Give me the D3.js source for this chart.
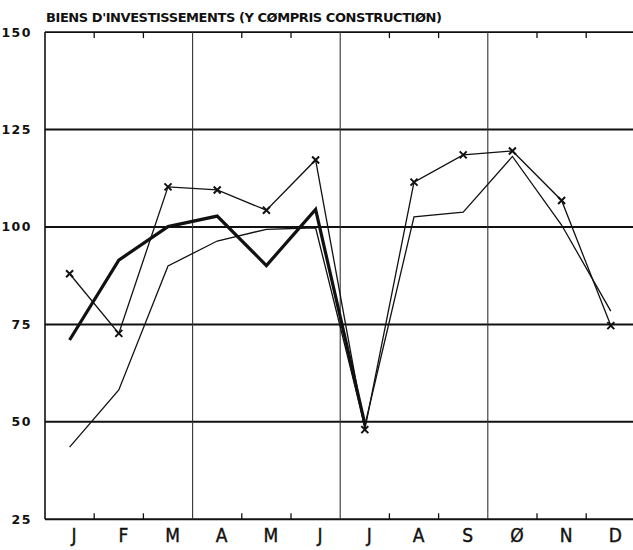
<!DOCTYPE html>
<html>
<head>
<meta charset="utf-8">
<script src="https://cdn.jsdelivr.net/npm/d3@7"></script>
<style>
  body { margin: 0; background: #fff; }
  svg { display: block; }
</style>
</head>
<body>
<svg id="chart"></svg>
<script>
// months as printed by the plotter (October drawn as slashed O)
const months = ["J", "F", "M", "A", "M", "J", "J", "A", "S", "Ø", "N", "D"];
const yTicks = [25, 50, 75, 100, 125, 150];
// series with x markers
const crossValues = [88, 72.7, 110.3, 109.5, 104.3, 117.2, 48, 111.5, 118.5, 119.5, 106.8, 74.7];
// heavy line, stops in July
const heavyValues = [71, 91.5, 100.1, 102.8, 90.1, 104.5, 49.5, null, null, null, null, null];
// plain thin line
const thinValues = [43.5, 58.2, 90, 96.4, 99.4, 99.8, 49, 102.6, 103.8, 118.1, 100.5, 78.4];
const title = "BIENS D'INVESTISSEMENTS (Y CØMPRIS CONSTRUCTIØN)";

const width = 633, height = 550;
const LEFT = 45, MONTH_W = 49.2;
const RIGHT = LEFT + MONTH_W * 12;

const svg = d3.select("#chart").attr("width", width).attr("height", height);

const x = d3.scalePoint().domain(d3.range(12)).range([LEFT, RIGHT]).padding(0.5);
const y = d3.scaleLinear().domain([25, 150]).range([519.3, 32.1]);

// horizontal grid lines
svg.append("g")
    .selectAll("line")
    .data(yTicks)
    .enter().append("line")
    .attr("x1", LEFT).attr("x2", width)
    .attr("y1", d => y(d)).attr("y2", d => y(d))
    .attr("stroke", "#111")
    .attr("stroke-width", d => d === 150 ? 1.6 : 2);

// quarter separators
const boundaries = d3.range(1, 12).map(i => LEFT + MONTH_W * i);
svg.append("g")
    .selectAll("line")
    .data(boundaries.filter((d, i) => (i + 1) % 3 === 0))
    .enter().append("line")
    .attr("x1", d => d).attr("x2", d => d)
    .attr("y1", y(150)).attr("y2", y(25))
    .attr("stroke", "#333").attr("stroke-width", 1.1);

// month ticks on top and bottom
const minor = boundaries.filter((d, i) => (i + 1) % 3 !== 0);
svg.append("g")
    .selectAll("line")
    .data(minor)
    .enter().append("line")
    .attr("x1", d => d).attr("x2", d => d)
    .attr("y1", y(150)).attr("y2", y(150) + 6)
    .attr("stroke", "#111").attr("stroke-width", 1.3);
svg.append("g")
    .selectAll("line")
    .data(minor)
    .enter().append("line")
    .attr("x1", d => d).attr("x2", d => d)
    .attr("y1", y(25)).attr("y2", y(25) - 6)
    .attr("stroke", "#111").attr("stroke-width", 1.3);

// left axis line
svg.append("line")
    .attr("x1", LEFT).attr("x2", LEFT)
    .attr("y1", y(150)).attr("y2", y(25))
    .attr("stroke", "#111").attr("stroke-width", 1.6);

// y labels
const yAxis = svg.append("g")
    .attr("transform", `translate(${LEFT - 13},0)`)
    .call(d3.axisLeft(y).tickValues(yTicks).tickSize(0).tickPadding(0));
yAxis.select(".domain").remove();
yAxis.selectAll("text")
    .attr("font-family", "'DejaVu Sans', sans-serif")
    .attr("font-weight", "bold")
    .attr("font-size", 12.5)
    .attr("letter-spacing", 1.5)
    .attr("fill", "#111");

// month labels
const xAxis = svg.append("g")
    .attr("transform", `translate(4,${y(25) + 9})`)
    .call(d3.axisBottom(x).tickSize(0).tickPadding(0).tickFormat(i => months[i]));
xAxis.select(".domain").remove();
xAxis.selectAll("text")
    .attr("font-family", "'DejaVu Sans Condensed', 'DejaVu Sans', sans-serif")
    .attr("font-size", 19)
    .attr("stroke", "#111")
    .attr("stroke-width", 0.4)
    .attr("fill", "#111");

// title
svg.append("text")
    .attr("x", 46).attr("y", 21.5)
    .attr("font-family", "'DejaVu Sans', sans-serif")
    .attr("font-weight", "bold")
    .attr("font-size", 13)
    .attr("textLength", 396)
    .attr("lengthAdjust", "spacing")
    .attr("fill", "#111")
    .text(title);

const line = d3.line()
    .defined(d => d != null)
    .x((d, i) => x(i))
    .y(d => y(d));

svg.append("path").datum(thinValues)
    .attr("d", line).attr("fill", "none")
    .attr("stroke", "#111").attr("stroke-width", 1.3);

svg.append("path").datum(heavyValues)
    .attr("d", line).attr("fill", "none")
    .attr("stroke", "#111").attr("stroke-width", 3.2)
    .attr("stroke-linejoin", "miter");

svg.append("path").datum(crossValues)
    .attr("d", line).attr("fill", "none")
    .attr("stroke", "#111").attr("stroke-width", 1.3);

const m = 3.5;
svg.append("g")
    .selectAll("path")
    .data(crossValues)
    .enter().append("path")
    .attr("d", (d, i) => {
        const cx = x(i), cy = y(d);
        return `M${cx - m},${cy - m}L${cx + m},${cy + m}M${cx - m},${cy + m}L${cx + m},${cy - m}`;
    })
    .attr("stroke", "#111").attr("stroke-width", 2);
</script>
</body>
</html>
